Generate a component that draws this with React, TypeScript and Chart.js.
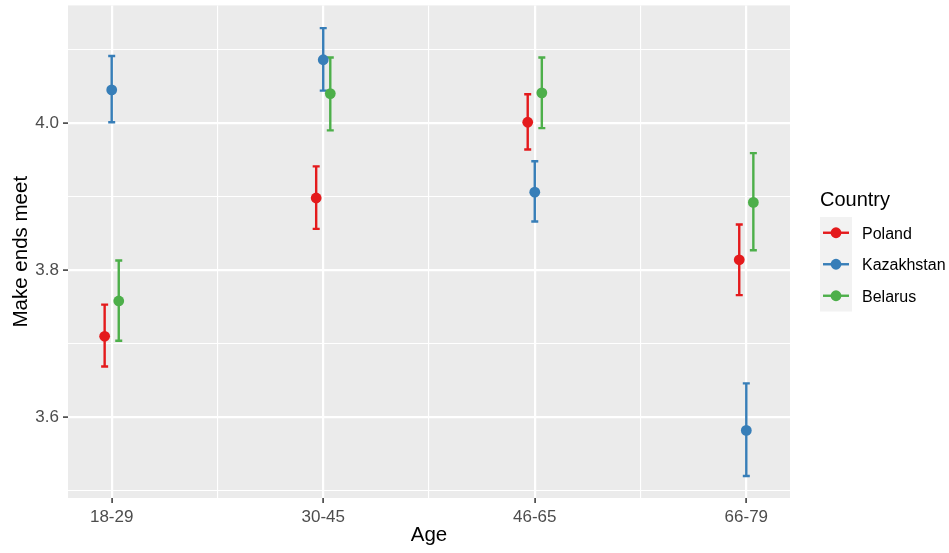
import { useEffect, useRef } from 'react';
import { Chart, registerables } from 'chart.js';

Chart.register(...registerables);

// ---- data ----
const categories = ['18-29', '30-45', '46-65', '66-79'];
const countries = ['Poland', 'Kazakhstan', 'Belarus'];

const polandMean = [3.710, 3.898, 4.001, 3.814];
const polandLow = [3.669, 3.856, 3.964, 3.766];
const polandHigh = [3.753, 3.941, 4.039, 3.862];

const kazakhstanMean = [4.045, 4.086, 3.906, 3.582];
const kazakhstanLow = [4.001, 4.044, 3.866, 3.520];
const kazakhstanHigh = [4.091, 4.129, 3.948, 3.646];

const belarusMean = [3.758, 4.040, 4.041, 3.892];
const belarusLow = [3.704, 3.990, 3.993, 3.827];
const belarusHigh = [3.813, 4.089, 4.089, 3.959];

const yMajorTicks = [3.6, 3.8, 4.0];
const yMajorLabels = ['3.6', '3.8', '4.0'];
const yMinorTicks = [3.5, 3.7, 3.9, 4.1];
const xMinorTicks = [0.5, 1.5, 2.5];

const xTitle = 'Age';
const yTitle = 'Make ends meet';
const legendTitle = 'Country';

const dodgeWidth = 0.1;

// ---- style ----
const COLORS = ['#E41A1C', '#377EB8', '#4DAF4A'];
const FONT = "'Liberation Sans', Arial, sans-serif";

export default function App() {
  const ref = useRef<HTMLCanvasElement>(null);

  useEffect(() => {
    document.body.style.margin = '0';
    const canvas = ref.current;
    if (!canvas) return;

    const means = [polandMean, kazakhstanMean, belarusMean];
    const lows = [polandLow, kazakhstanLow, belarusLow];
    const highs = [polandHigh, kazakhstanHigh, belarusHigh];
    const n = countries.length;
    const offset = (k: number) => (k - (n - 1) / 2) * dodgeWidth / n;

    const datasets = countries.map((c, k) => ({
      label: c,
      data: categories.map((_, i) => ({ x: i + offset(k), y: means[k][i] })),
      backgroundColor: COLORS[k],
      borderColor: COLORS[k],
      borderWidth: 0,
      pointRadius: 5.4,
      pointHoverRadius: 5.4,
    }));

    const isIn = (arr: number[], v: number) => arr.some((m) => Math.abs(m - v) < 1e-9);

    const panelBg = {
      id: 'panelBg',
      beforeDraw(chart: any) {
        const { ctx, chartArea: a } = chart;
        ctx.save();
        ctx.fillStyle = '#EBEBEB';
        ctx.fillRect(a.left, a.top, a.right - a.left, a.bottom - a.top);
        ctx.restore();
      },
    };

    const errorBars = {
      id: 'errorBars',
      beforeDatasetsDraw(chart: any) {
        const { ctx } = chart;
        const xs = chart.scales.x;
        const ys = chart.scales.y;
        const cap = 3.5;
        ctx.save();
        ctx.lineWidth = 2.4;
        ctx.lineCap = 'butt';
        for (let k = 0; k < n; k++) {
          ctx.strokeStyle = COLORS[k];
          for (let i = 0; i < categories.length; i++) {
            const x = xs.getPixelForValue(i + offset(k));
            const y1 = ys.getPixelForValue(lows[k][i]);
            const y2 = ys.getPixelForValue(highs[k][i]);
            ctx.beginPath();
            ctx.moveTo(x, y1);
            ctx.lineTo(x, y2);
            ctx.moveTo(x - cap, y1);
            ctx.lineTo(x + cap, y1);
            ctx.moveTo(x - cap, y2);
            ctx.lineTo(x + cap, y2);
            ctx.stroke();
          }
        }
        ctx.restore();
      },
    };

    const decor = {
      id: 'decor',
      afterDraw(chart: any) {
        const { ctx, chartArea: a } = chart;
        ctx.save();
        // axis titles
        ctx.fillStyle = '#000000';
        ctx.font = `20.5px ${FONT}`;
        ctx.textAlign = 'center';
        ctx.textBaseline = 'alphabetic';
        ctx.fillText(xTitle, (a.left + a.right) / 2, 541);
        ctx.save();
        ctx.translate(26.5, (a.top + a.bottom) / 2);
        ctx.rotate(-Math.PI / 2);
        ctx.fillText(yTitle, 0, 0);
        ctx.restore();

        // legend
        const lx = a.right + 30;
        ctx.textAlign = 'left';
        ctx.font = `20px ${FONT}`;
        ctx.fillText(legendTitle, lx, 206);
        const keyTop = 217;
        const keyH = 31.5;
        ctx.fillStyle = '#F2F2F2';
        ctx.fillRect(lx, keyTop, 32, keyH * n);
        ctx.font = `16px ${FONT}`;
        for (let k = 0; k < n; k++) {
          const cy = keyTop + keyH * k + keyH / 2;
          ctx.strokeStyle = COLORS[k];
          ctx.lineWidth = 2.4;
          ctx.beginPath();
          ctx.moveTo(lx + 3, cy);
          ctx.lineTo(lx + 29, cy);
          ctx.stroke();
          ctx.fillStyle = COLORS[k];
          ctx.beginPath();
          ctx.arc(lx + 16, cy, 5.4, 0, Math.PI * 2);
          ctx.fill();
          ctx.fillStyle = '#000000';
          ctx.fillText(countries[k], lx + 42, cy + 5.8);
        }
        ctx.restore();
      },
    };

    const chart = new Chart(canvas, {
      type: 'scatter',
      data: { datasets },
      options: {
        animation: false,
        responsive: false,
        events: [],
        layout: { padding: { left: 0, top: 4, right: 159, bottom: 0 } },
        plugins: { legend: { display: false }, tooltip: { enabled: false } },
        scales: {
          x: {
            type: 'linear',
            min: -0.2066,
            max: 3.2066,
            afterBuildTicks: (s: any) => {
              const vals = [...categories.map((_, i) => i), ...xMinorTicks].sort((p, q) => p - q);
              s.ticks = vals.map((v) => ({ value: v }));
            },
            afterFit: (s: any) => {
              s.height = 55;
              s.paddingLeft = 0;
              s.paddingRight = 0;
            },
            border: { display: false },
            grid: {
              color: '#FFFFFF',
              lineWidth: (c: any) => (isIn(xMinorTicks, c.tick?.value) ? 1.1 : 2.2),
              drawTicks: true,
              tickLength: 5,
              tickWidth: 1.5,
              tickColor: (c: any) => (isIn(xMinorTicks, c.tick?.value) ? 'rgba(0,0,0,0)' : '#333333'),
            },
            ticks: {
              autoSkip: false,
              maxRotation: 0,
              padding: 4,
              color: '#4D4D4D',
              font: { family: FONT, size: 17 },
              callback: (v: any) => {
                const i = Math.round(Number(v));
                return Math.abs(i - Number(v)) < 1e-9 ? categories[i] : '';
              },
            },
          },
          y: {
            type: 'linear',
            min: 3.4901,
            max: 4.1599,
            afterBuildTicks: (s: any) => {
              const vals = [...yMajorTicks, ...yMinorTicks].sort((p, q) => p - q);
              s.ticks = vals.map((v) => ({ value: v }));
            },
            afterFit: (s: any) => {
              s.width = 68;
              s.paddingTop = 0;
              s.paddingBottom = 0;
            },
            border: { display: false },
            grid: {
              color: '#FFFFFF',
              lineWidth: (c: any) => (isIn(yMinorTicks, c.tick?.value) ? 1.1 : 2.2),
              drawTicks: true,
              tickLength: 5,
              tickWidth: 1.5,
              tickColor: (c: any) => (isIn(yMinorTicks, c.tick?.value) ? 'rgba(0,0,0,0)' : '#333333'),
            },
            ticks: {
              padding: 4,
              color: '#4D4D4D',
              font: { family: FONT, size: 17 },
              callback: (v: any) => {
                const idx = yMajorTicks.findIndex((m) => Math.abs(m - Number(v)) < 1e-9);
                return idx >= 0 ? yMajorLabels[idx] : '';
              },
            },
          },
        },
      },
      plugins: [panelBg, errorBars, decor],
    });

    return () => chart.destroy();
  }, []);

  return <canvas ref={ref} width={949} height={553} style={{ display: 'block' }} />;
}
